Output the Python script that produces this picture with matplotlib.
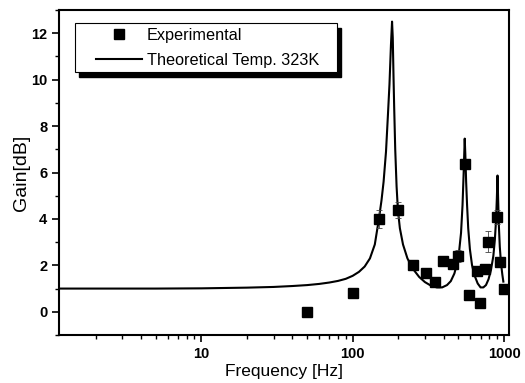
import matplotlib
matplotlib.use('Agg')
import matplotlib.pyplot as plt
from matplotlib.patches import Rectangle
from matplotlib.ticker import LogLocator, NullFormatter, FixedLocator, ScalarFormatter

plt.rcParams['font.family'] = ['Liberation Sans', 'DejaVu Sans']

# Experimental points
exp_freq = [50, 100, 149, 199, 251, 305, 349, 398, 458, 494, 550, 589, 667, 694, 751, 784, 895, 941, 1000]
exp_gain = [0.0, 0.82, 4.0, 4.37, 2.0, 1.67, 1.3, 2.2, 2.04, 2.41, 6.35, 0.74, 1.75, 0.37, 1.84, 3.02, 4.08, 2.13, 0.98]
exp_err = [0.05, 0.05, 0.4, 0.35, 0.1, 0.05, 0.05, 0.2, 0.2, 0.25, 0.2, 0.05, 0.1, 0.05, 0.1, 0.45, 0.3, 0.2, 0.05]

# Theoretical curve, 323K (traced)
theo_freq = [1.15, 5, 10, 20, 30, 40, 50, 60, 70, 80, 90, 100, 110, 120, 130, 140, 149, 155, 160,
             166, 171, 175, 179, 182, 184, 186, 188, 191, 195, 199, 205, 215, 230, 250, 275, 300,
             330, 360, 390, 420, 445, 470, 490, 505, 520, 532, 540, 546, 550, 555, 562, 570, 580,
             595, 615, 640, 670, 700, 730, 760, 790, 820, 850, 870, 885, 897, 906, 915, 925, 938,
             955, 975, 990]
theo_gain = [1.0, 1.0, 1.01, 1.04, 1.07, 1.11, 1.15, 1.2, 1.26, 1.33, 1.42, 1.55, 1.72, 1.95, 2.3, 2.9,
             4.0, 4.8, 5.6, 6.9, 8.5, 9.8, 11.5, 12.5, 11.8, 10.2, 8.8, 7.0, 5.4, 4.37, 3.6, 2.9, 2.3,
             1.85, 1.5, 1.28, 1.12, 1.05, 1.05, 1.15, 1.32, 1.65, 2.1, 2.6, 3.4, 4.6, 5.8, 6.8, 7.46,
             6.8, 5.6, 4.6, 3.6, 2.7, 2.0, 1.55, 1.22, 1.05, 1.05, 1.15, 1.4, 1.8, 2.4, 3.1, 3.9,
             4.9, 5.87, 4.8, 3.7, 2.8, 2.1, 1.6, 1.3]

fig = plt.figure(figsize=(5.25, 3.83), dpi=100)
ax = fig.add_axes([59 / 525, 48 / 383, 450 / 525, 325 / 383])

ax.plot(theo_freq, theo_gain, color='black', lw=1.5, label='Theoretical Temp. 323K', zorder=2)
ax.errorbar(exp_freq, exp_gain, yerr=exp_err, fmt='none', ecolor='#444444', elinewidth=0.6,
            capsize=2, capthick=0.6, zorder=3)
ax.plot(exp_freq, exp_gain, 's', color='black', ms=6.8, label='Experimental', zorder=4)

ax.set_xscale('log')
ax.set_xlim(1.145, 1079)
ax.set_ylim(-1, 13)

ax.xaxis.set_major_locator(FixedLocator([10, 100, 1000]))
ax.xaxis.set_major_formatter(ScalarFormatter())
ax.xaxis.set_minor_locator(LogLocator(base=10, subs=range(2, 10)))
ax.xaxis.set_minor_formatter(NullFormatter())
ax.set_yticks([0, 2, 4, 6, 8, 10, 12])
ax.set_yticks(range(-1, 14, 2), minor=True)

ax.tick_params(which='major', direction='out', length=5, width=1.2, labelsize=10.5)
ax.tick_params(which='minor', direction='out', length=3, width=1.0)
ax.tick_params(top=False, right=False)
for lbl in ax.get_xticklabels() + ax.get_yticklabels():
    lbl.set_fontweight('bold')

for sp in ax.spines.values():
    sp.set_linewidth(1.5)

ax.set_xlabel('Frequency [Hz]', fontsize=12.5, labelpad=2)
ax.set_ylabel('Gain[dB]', fontsize=14, labelpad=1)

# legend box with a solid drop shadow
x0, x1 = 0.0355, 0.6186
y0, y1 = 0.809, 0.96
ax.add_patch(Rectangle((x0 + 0.009, y0 - 0.016), x1 - x0, y1 - y0, transform=ax.transAxes,
                       facecolor='black', edgecolor='black', zorder=5))
ax.add_patch(Rectangle((x0, y0), x1 - x0, y1 - y0, transform=ax.transAxes,
                       facecolor='white', edgecolor='black', lw=0.8, zorder=6))
handles, labels = ax.get_legend_handles_labels()
leg = ax.legend(handles[::-1], labels[::-1], loc='upper left', bbox_to_anchor=(0.082, 0.945),
                frameon=False, borderpad=0, borderaxespad=0, handlelength=2.85,
                handletextpad=0.3, labelspacing=0.6, fontsize=11.7)
leg.set_zorder(7)

fig.savefig('out.png', dpi=100)
